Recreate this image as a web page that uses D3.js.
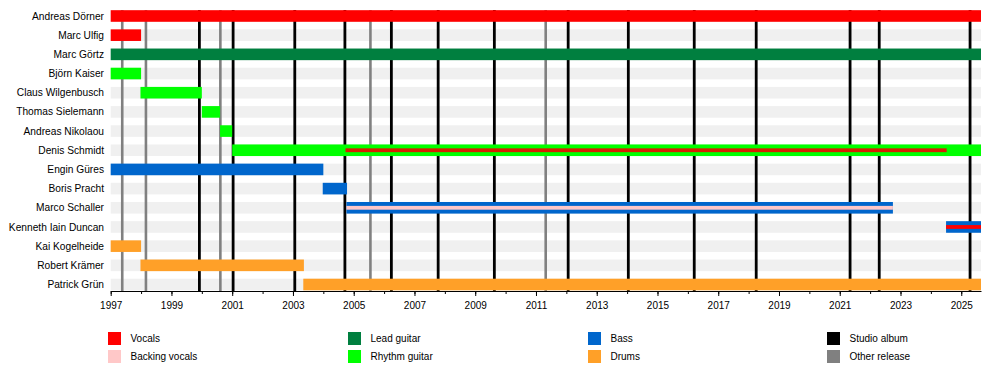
<!DOCTYPE html>
<html>
<head>
<meta charset="utf-8">
<script src="https://cdn.jsdelivr.net/npm/d3@7"></script>
<style>
  html, body { margin: 0; padding: 0; background: #fff; }
  svg { display: block; font-family: "Liberation Sans", Arial, sans-serif; }
</style>
</head>
<body>
<svg id="chart" width="1000" height="380"></svg>
<script>
// ---------- data ----------
const members = [
  "Andreas Dörner", "Marc Ulfig", "Marc Görtz", "Björn Kaiser", "Claus Wilgenbusch",
  "Thomas Sielemann", "Andreas Nikolaou", "Denis Schmidt", "Engin Güres", "Boris Pracht",
  "Marco Schaller", "Kenneth Iain Duncan", "Kai Kogelheide", "Robert Krämer", "Patrick Grün"
];
const startYear = 1997;
const endYear = 2025.65;

// main bars: [member, role, start, end]
const periods = [
  ["Andreas Dörner", "Vocals", 1997, endYear],
  ["Marc Ulfig", "Vocals", 1997, 1998.0],
  ["Marc Görtz", "Lead guitar", 1997, endYear],
  ["Björn Kaiser", "Rhythm guitar", 1997, 1998.0],
  ["Claus Wilgenbusch", "Rhythm guitar", 1997.98, 2000.0],
  ["Thomas Sielemann", "Rhythm guitar", 2000.0, 2000.6],
  ["Andreas Nikolaou", "Rhythm guitar", 2000.6, 2001.0],
  ["Denis Schmidt", "Rhythm guitar", 2001.0, endYear],
  ["Engin Güres", "Bass", 1997, 2004.0],
  ["Boris Pracht", "Bass", 2003.98, 2004.78],
  ["Marco Schaller", "Bass", 2004.76, 2022.75],
  ["Kenneth Iain Duncan", "Bass", 2024.5, endYear],
  ["Kai Kogelheide", "Drums", 1997, 1998.0],
  ["Robert Krämer", "Drums", 1997.98, 2003.36],
  ["Patrick Grün", "Drums", 2003.34, endYear]
];

// secondary (thin) bars: [member, role, start, end]
const secondary = [
  ["Denis Schmidt", "Vocals", 2004.73, 2024.52],
  ["Marco Schaller", "Backing vocals", 2004.76, 2022.75],
  ["Kenneth Iain Duncan", "Vocals", 2024.5, endYear]
];

const studioAlbums = [1999.92, 2001.03, 2003.06, 2004.71, 2006.24, 2007.78, 2009.63,
  2012.06, 2014.04, 2016.21, 2018.25, 2021.34, 2022.30, 2025.29];
const otherReleases = [1997.38, 1998.16, 2000.61, 2005.55, 2011.32];

const tickYears = d3.range(1997, 2026, 2);
const minorYears = d3.range(1997, 2026, 1);

const roles = ["Vocals", "Backing vocals", "Lead guitar", "Rhythm guitar", "Bass", "Drums", "Studio album", "Other release"];
const roleColors = ["#ff0000", "#ffc8c8", "#007f3f", "#00ff00", "#0066cc", "#ffa028", "#000000", "#808080"];

// ---------- layout ----------
const svg = d3.select("#chart");
const left = 110.7, right = 981, axisY = 291;
const x = d3.scaleLinear().domain([startYear, endYear]).range([left, right]);
const y = d3.scaleBand().domain(members).range([6.4, 294.1]).paddingInner(0);
const color = d3.scaleOrdinal().domain(roles).range(roleColors);
const barH = 11.6;
const barY = d => y(d) + (y.bandwidth() - barH) / 2;

// background stripes
svg.append("g").selectAll("rect").data(members).join("rect")
  .attr("x", left).attr("width", right - left)
  .attr("y", d => barY(d)).attr("height", barH)
  .attr("fill", "#f0f0f0");

// release lines
svg.append("g").selectAll("line").data(otherReleases).join("line")
  .attr("x1", d => x(d)).attr("x2", d => x(d))
  .attr("y1", 10).attr("y2", axisY)
  .attr("stroke", color("Other release")).attr("stroke-width", 2.6);
svg.append("g").selectAll("line").data(studioAlbums).join("line")
  .attr("x1", d => x(d)).attr("x2", d => x(d))
  .attr("y1", 10).attr("y2", axisY)
  .attr("stroke", color("Studio album")).attr("stroke-width", 2.8);

// main bars
svg.append("g").selectAll("rect").data(periods).join("rect")
  .attr("x", d => x(d[2])).attr("width", d => x(d[3]) - x(d[2]))
  .attr("y", d => barY(d[0])).attr("height", barH)
  .attr("fill", d => color(d[1]));

// secondary thin bars
const thinH = 3.8;
svg.append("g").selectAll("rect").data(secondary).join("rect")
  .attr("x", d => x(d[2])).attr("width", d => x(d[3]) - x(d[2]))
  .attr("y", d => y(d[0]) + (y.bandwidth() - thinH) / 2).attr("height", thinH)
  .attr("fill", d => d[1] === "Vocals" && d[0] === "Denis Schmidt" ? "#d42000" : color(d[1]));

// member names
svg.append("g").selectAll("text").data(members).join("text")
  .attr("x", 104).attr("y", d => y(d) + y.bandwidth() / 2)
  .attr("dy", "0.35em").attr("text-anchor", "end")
  .attr("font-size", 10.2).attr("fill", "#000")
  .text(d => d);

// axis
const axisG = svg.append("g").attr("transform", `translate(0,${axisY})`);
axisG.call(d3.axisBottom(x).tickValues(minorYears).tickSize(3).tickFormat("").tickSizeOuter(0));
axisG.call(g => g.select(".domain").attr("stroke", "#000"));
const majorG = svg.append("g").attr("transform", `translate(0,${axisY})`);
majorG.call(d3.axisBottom(x).tickValues(tickYears).tickSize(5).tickSizeOuter(0).tickFormat(d3.format("d")).tickPadding(6));
majorG.select(".domain").remove();
majorG.selectAll("text").attr("font-size", 10).attr("fill", "#000")
  .attr("font-family", "'Liberation Sans', Arial, sans-serif");
svg.selectAll(".tick line").attr("stroke", "#000");

// legend
const legendCols = [108, 348, 588, 827];
const legendRows = [332, 350];
const legendItems = roles.map((r, i) => ({
  role: r,
  cx: legendCols[Math.floor(i / 2)],
  cy: legendRows[i % 2]
}));
const lg = svg.append("g").selectAll("g").data(legendItems).join("g")
  .attr("transform", d => `translate(${d.cx},${d.cy})`);
lg.append("rect").attr("width", 13).attr("height", 13).attr("fill", d => color(d.role));
lg.append("text").attr("x", 22.5).attr("y", 6.8).attr("dy", "0.35em")
  .attr("font-size", 10).attr("fill", "#000").text(d => d.role);
</script>
</body>
</html>
